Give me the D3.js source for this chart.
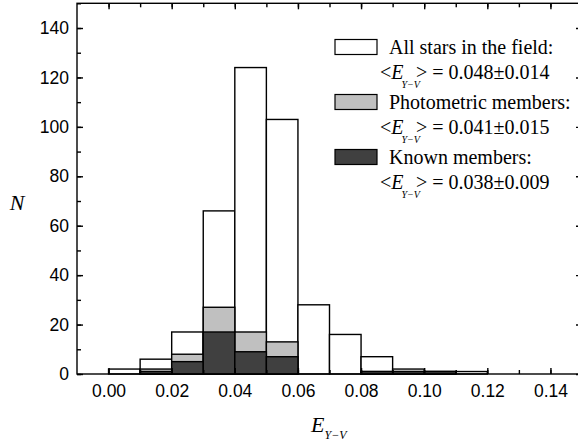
<!DOCTYPE html>
<html><head><meta charset="utf-8">
<script src="https://cdn.jsdelivr.net/npm/d3@7"></script>
<style>body{margin:0;background:#fff}svg{display:block}</style>
</head><body>
<svg id="c" width="578" height="444"></svg>
<script>
const binStart = [0.00,0.01,0.02,0.03,0.04,0.05,0.06,0.07,0.08,0.09,0.10,0.11];
const allStars = [2,6,17,66,124,103,28,16,7,2,1,1];
const photometric = [0,2,8,27,17,13,0,0,1,1,1,0];
const known = [0,1,5,17,9,7,0,0,1,1,1,0];
const binWidth = 0.01;
const xTicks = [0.00,0.02,0.04,0.06,0.08,0.10,0.12,0.14];
const yTicks = [0,20,40,60,80,100,120,140];
const legendTitles = ["All stars in the field:","Photometric members:","Known members:"];
const legendValues = ["0.048\u00b10.014","0.041\u00b10.015","0.038\u00b10.009"];
const fills = ["#ffffff","#c0c0c0","#404040"];

const svg = d3.select("#c");
const L=77, R=582, T=3.3, B=374;
const x = d3.scaleLinear().domain([-0.01,0.15]).range([L,R]);
const y = d3.scaleLinear().domain([0,150]).range([B,T]);

const series=[allStars,photometric,known];
series.forEach((s,k)=>{
  svg.append("g").selectAll("rect").data(binStart.map((b,i)=>({b,v:s[i]})).filter(d=>d.v>0))
    .enter().append("rect")
    .attr("x",d=>x(d.b)).attr("width",d=>x(d.b+binWidth)-x(d.b))
    .attr("y",d=>y(d.v)).attr("height",d=>y(0)-y(d.v))
    .attr("fill",fills[k]).attr("stroke","#000").attr("stroke-width",1.4);
});

const minorX = d3.range(0,15).map(i=>i*0.01);
const minorY = d3.range(0,16).map(i=>i*10);
const axStyle = g=>{g.select(".domain").remove();g.selectAll("line").attr("stroke","#000").attr("stroke-width",1.4);};
const sans="Liberation Sans, Arial, sans-serif";
// bottom
svg.append("g").attr("transform",`translate(0,${B})`)
  .call(d3.axisBottom(x).tickValues(minorX).tickSize(-4).tickFormat(""))
  .call(axStyle);
svg.append("g").attr("transform",`translate(0,${B})`)
  .call(d3.axisBottom(x).tickValues(xTicks).tickSize(-6).tickPadding(11).tickFormat(d3.format(".2f")))
  .call(axStyle)
  .call(g=>g.selectAll("text").attr("font-family",sans).attr("font-size","17.5px").attr("fill","#000"));
// top
svg.append("g").attr("transform",`translate(0,${T})`)
  .call(d3.axisTop(x).tickValues(minorX).tickSize(-4).tickFormat("")).call(axStyle);
svg.append("g").attr("transform",`translate(0,${T})`)
  .call(d3.axisTop(x).tickValues(xTicks).tickSize(-6).tickFormat("")).call(axStyle);
// left
svg.append("g").attr("transform",`translate(${L},0)`)
  .call(d3.axisLeft(y).tickValues(minorY).tickSize(-4).tickFormat("")).call(axStyle);
svg.append("g").attr("transform",`translate(${L},0)`)
  .call(d3.axisLeft(y).tickValues(yTicks).tickSize(-6).tickPadding(8).tickFormat(d3.format("d")))
  .call(axStyle)
  .call(g=>g.selectAll("text").attr("font-family",sans).attr("font-size","17.5px").attr("fill","#000"));
// right
svg.append("g").attr("transform",`translate(${R},0)`)
  .call(d3.axisRight(y).tickValues(minorY).tickSize(-4).tickFormat("")).call(axStyle);
svg.append("g").attr("transform",`translate(${R},0)`)
  .call(d3.axisRight(y).tickValues(yTicks).tickSize(-6).tickFormat("")).call(axStyle);
// frame
svg.append("rect").attr("x",L).attr("y",T).attr("width",R-L).attr("height",B-T)
  .attr("fill","none").attr("stroke","#000").attr("stroke-width",1.4);

const serif="Liberation Serif, Times New Roman, serif";
// axis titles
svg.append("text").attr("x",17).attr("y",210).attr("text-anchor","middle")
  .attr("font-family",serif).attr("font-style","italic").attr("font-size","22px").text("N");
const xl = svg.append("text").attr("x",311).attr("y",432).attr("font-family",serif).attr("font-size","22px");
xl.append("tspan").attr("font-style","italic").text("E");
xl.append("tspan").attr("font-style","italic").attr("font-size","12px").attr("dy",7).attr("dx",0).text("Y\u2212V");

// legend
const pitch=55;
legendTitles.forEach((t,i)=>{
  const by=54+i*pitch;
  svg.append("rect").attr("x",335).attr("y",by-14.5).attr("width",42).attr("height",15)
    .attr("fill",fills[i]).attr("stroke","#000").attr("stroke-width",1.2);
  svg.append("text").attr("x",389).attr("y",by).attr("font-family",serif).attr("font-size","20px").text(t);
  const l2=svg.append("text").attr("x",380).attr("y",by+25).attr("font-family",serif).attr("font-size","20px");
  l2.append("tspan").text("<");
  l2.append("tspan").attr("font-style","italic").attr("dx",0).text("E");
  l2.append("tspan").attr("font-style","italic").attr("font-size","10px").attr("dy",9).attr("dx",-2).text("Y\u2212V");
  l2.append("tspan").attr("dy",-9).attr("dx",-4).text(">");
  l2.append("tspan").text(" = "+legendValues[i]);
});
</script>
</body></html>
